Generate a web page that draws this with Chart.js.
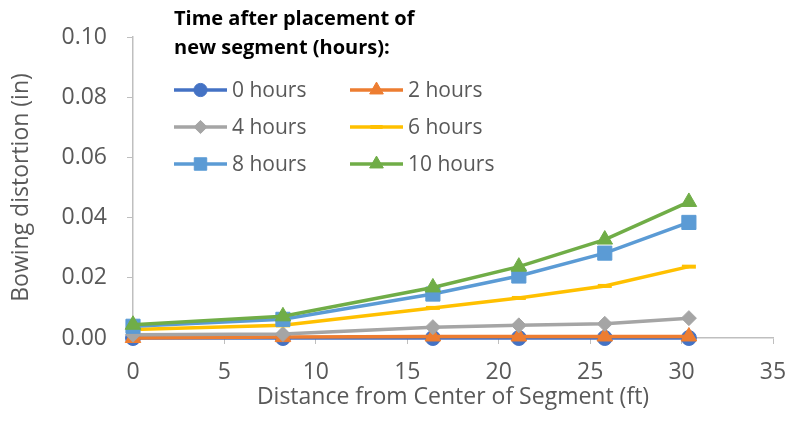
<!DOCTYPE html>
<html>
<head>
<meta charset="utf-8">
<script src="https://cdn.jsdelivr.net/npm/chart.js@4/dist/chart.umd.min.js"></script>
<style>
  html, body { margin: 0; padding: 0; background: #fff; }
  #wrap { width: 791px; height: 423px; }
</style>
</head>
<body>
<div id="wrap"><canvas id="chart" width="791" height="423"></canvas></div>
<script>
// distances from centre of segment (ft)
const distance = [0, 8.2, 16.4, 21.1, 25.8, 30.4];

const seriesNames = ['0 hours', '2 hours', '4 hours', '6 hours', '8 hours', '10 hours'];
const hours0 = [0, 0, 0, 0, 0, 0];
const hours2 = [0.0000, 0.0003, 0.0005, 0.0005, 0.0005, 0.0005];
const hours4 = [0.0011, 0.0013, 0.0036, 0.0042, 0.0047, 0.0066];
const hours6 = [0.0028, 0.0042, 0.0100, 0.0133, 0.0173, 0.0237];
const hours8 = [0.0039, 0.0062, 0.0146, 0.0206, 0.0282, 0.0384];
const hours10 = [0.0044, 0.0072, 0.0168, 0.0237, 0.0327, 0.0452];

const yTicks = [0, 0.02, 0.04, 0.06, 0.08, 0.10];
const xTicks = [0, 5, 10, 15, 20, 25, 30, 35];

const legendTitle = ['Time after placement of', 'new segment (hours):'];

const colors = ['#4472C4', '#ED7D31', '#A5A5A5', '#FFC000', '#5B9BD5', '#70AD47'];
const styles = ['circle', 'triangle', 'rectRot', 'line', 'rect', 'triangle'];
const radii = [7.5, 9, 7.5, 7, 10, 9];

const allValues = [hours0, hours2, hours4, hours6, hours8, hours10];

const datasets = allValues.map((vals, i) => ({
  label: seriesNames[i],
  data: vals.map((v, j) => ({ x: distance[j], y: v })),
  borderColor: colors[i],
  backgroundColor: colors[i],
  pointBackgroundColor: colors[i],
  pointBorderColor: colors[i],
  pointStyle: styles[i],
  pointRadius: radii[i],
  pointBorderWidth: styles[i] === 'line' ? 4 : 1,
  borderWidth: 3.5,
  tension: 0,
  clip: false,
  // later series on top, like the original
  order: allValues.length - i
}));

const font = '"Open Sans", sans-serif';
const textColor = '#595959';

// two-column legend inside the plot, drawn by hand
const customLegend = {
  id: 'customLegend',
  afterDraw(chart) {
    const ctx = chart.ctx;
    const cols = [174, 350];
    const rows = [90, 127, 164];
    ctx.save();
    ctx.fillStyle = '#000';
    ctx.font = 'bold 20px ' + font;
    ctx.textBaseline = 'middle';
    ctx.textAlign = 'left';
    ctx.fillText(legendTitle[0], 174, 19);
    ctx.fillText(legendTitle[1], 174, 48);
    chart.data.datasets.forEach((ds, i) => {
      const x0 = cols[i % 2];
      const y = rows[Math.floor(i / 2)];
      ctx.strokeStyle = ds.borderColor;
      ctx.fillStyle = ds.borderColor;
      ctx.lineWidth = 3.5;
      ctx.beginPath();
      ctx.moveTo(x0, y);
      ctx.lineTo(x0 + 53, y);
      ctx.stroke();
      ctx.lineWidth = ds.pointBorderWidth;
      Chart.helpers.drawPoint(ctx, {
        pointStyle: ds.pointStyle,
        radius: ds.pointRadius * 0.88,
        borderWidth: ds.pointBorderWidth,
        rotation: 0
      }, x0 + 26.5, y);
      ctx.fillStyle = textColor;
      ctx.font = '21px ' + font;
      ctx.fillText(ds.label, x0 + 58, y + 1);
    });
    ctx.restore();
  }
};

new Chart(document.getElementById('chart'), {
  type: 'line',
  data: { datasets },
  plugins: [customLegend],
  options: {
    responsive: false,
    animation: false,
    layout: { padding: { top: 37, right: 18, left: 0, bottom: 0 } },
    plugins: {
      legend: { display: false },
      tooltip: { enabled: false }
    },
    scales: {
      x: {
        type: 'linear',
        min: 0,
        max: 35,
        afterBuildTicks: (scale) => { scale.ticks = xTicks.map(v => ({ value: v })); },
        grid: { drawOnChartArea: false, drawTicks: true, tickLength: 6, color: '#bfbfbf' },
        border: { color: '#bfbfbf', width: 1.5 },
        ticks: { color: textColor, font: { family: font, size: 23 }, padding: 15 },
        title: {
          display: true,
          text: 'Distance from Center of Segment (ft)',
          color: textColor,
          font: { family: font, size: 23 },
          padding: { top: 0, bottom: 12 }
        },
        afterFit: (scale) => {
          scale.height = 85;
          scale.paddingRight = 0;
          scale.paddingLeft = 0;
        }
      },
      y: {
        min: 0,
        max: 0.1,
        afterBuildTicks: (scale) => { scale.ticks = yTicks.map(v => ({ value: v })); },
        grid: { drawOnChartArea: false, drawTicks: true, tickLength: 6, color: '#bfbfbf' },
        border: { color: '#bfbfbf', width: 1.5 },
        ticks: {
          color: textColor,
          font: { family: font, size: 23 },
          padding: 20,
          callback: (v) => Number(v).toFixed(2)
        },
        title: {
          display: true,
          text: 'Bowing distortion (in)',
          color: textColor,
          font: { family: font, size: 23 },
          padding: { top: 8, bottom: 0 }
        },
        afterFit: (scale) => {
          scale.width = 133;
          scale.paddingTop = 0;
          scale.paddingBottom = 0;
        }
      }
    }
  }
});
</script>
</body>
</html>
